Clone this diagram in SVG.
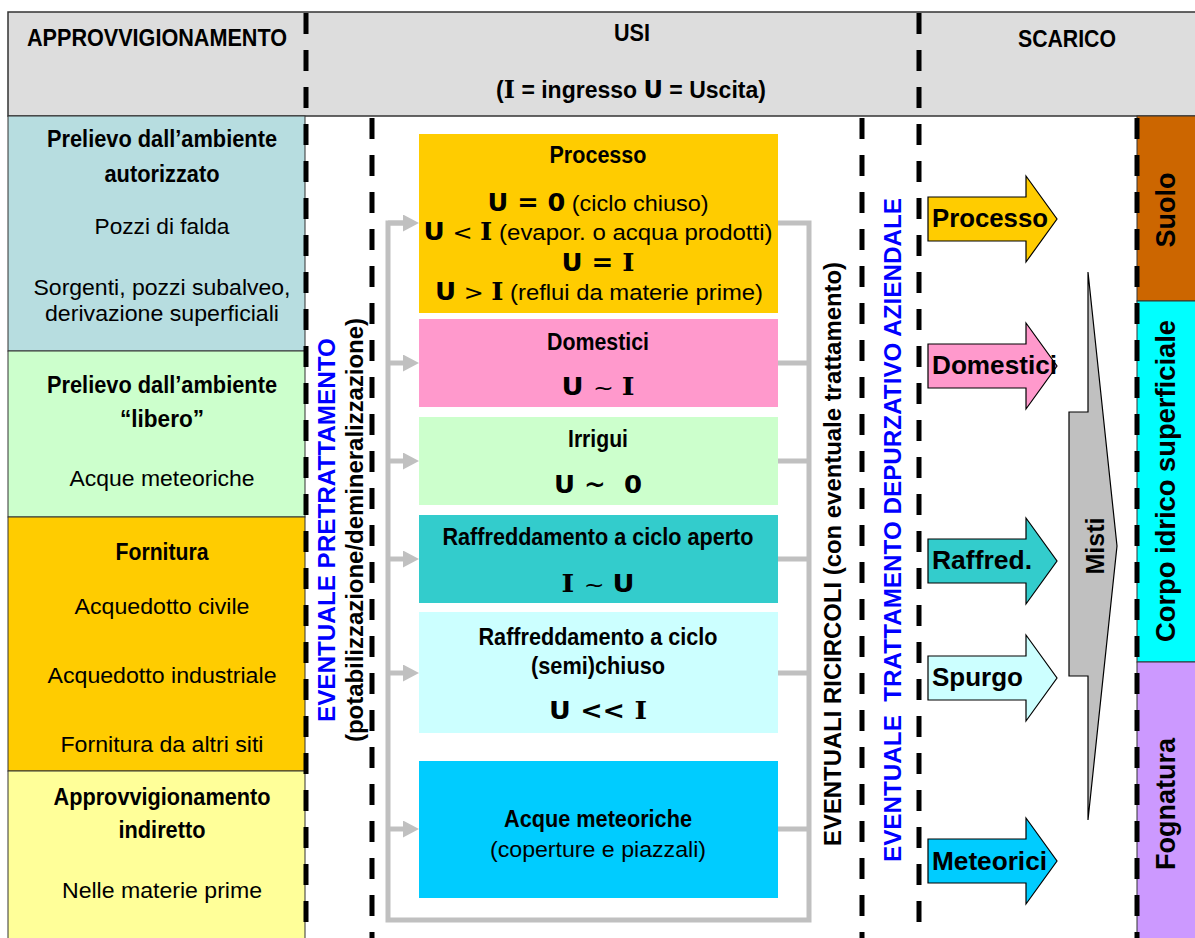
<svg xmlns="http://www.w3.org/2000/svg" width="1195" height="938" viewBox="0 0 1195 938">
<style>
.b{font-family:"Liberation Sans",Arial,sans-serif;font-weight:bold;font-size:24px;fill:#000}
.r{font-family:"Liberation Sans",Arial,sans-serif;font-size:22px;fill:#000}
.h{font-family:"Liberation Sans",Arial,sans-serif;font-weight:bold;font-size:23px;fill:#000}
.bl{font-family:"Liberation Sans",Arial,sans-serif;font-weight:bold;font-size:24px;fill:#0000ff}
.al{font-family:"Liberation Sans",Arial,sans-serif;font-weight:bold;font-size:26px;fill:#000}
.rc{font-family:"Liberation Sans",Arial,sans-serif;font-weight:bold;font-size:27px;fill:#000}
.su{font-family:"DejaVu Sans",sans-serif;font-weight:bold;font-size:24px}
.si{font-family:"DejaVu Serif",serif;font-weight:bold;font-size:24px}
.op{font-family:"DejaVu Sans",sans-serif;font-size:22px}
.dash{stroke:#000;stroke-width:5;stroke-dasharray:21 16;fill:none}
.gray{stroke:#c0c0c0;stroke-width:5;fill:none}
.cell{stroke:#333;stroke-width:1}
.blk{stroke:#000;stroke-width:1.2}
</style>
<defs>
<marker id="ga" markerUnits="userSpaceOnUse" markerWidth="17" markerHeight="18" refX="0" refY="8.5" orient="auto"><path d="M0,0 L16,8.5 L0,17 z" fill="#c0c0c0"/></marker>
</defs>
<rect width="1195" height="938" fill="#fff"/>

<g id="header">
<rect x="8" y="12" width="1192" height="104" fill="#dddddd" stroke="#333" stroke-width="1.5"/>
<text class="h" x="157" y="46" text-anchor="middle" textLength="260" lengthAdjust="spacingAndGlyphs">APPROVVIGIONAMENTO</text>
<text class="h" x="632" y="41" text-anchor="middle" textLength="36" lengthAdjust="spacingAndGlyphs">USI</text>
<text class="h" x="631" y="98" text-anchor="middle">(<tspan class="si">I</tspan> = ingresso <tspan class="su">U</tspan> = Uscita)</text>
<text class="h" x="1067" y="47" text-anchor="middle" textLength="98" lengthAdjust="spacingAndGlyphs">SCARICO</text>
</g>

<g id="supply">
<g id="prelievo-autorizzato">
<rect class="cell" x="8" y="116" width="297" height="235" fill="#b7dde0"/>
<text class="b" x="162" y="147" text-anchor="middle" textLength="230" lengthAdjust="spacingAndGlyphs">Prelievo dall’ambiente</text>
<text class="b" x="162" y="182" text-anchor="middle" textLength="115" lengthAdjust="spacingAndGlyphs">autorizzato</text>
<text class="r" x="162" y="234" text-anchor="middle" textLength="135" lengthAdjust="spacingAndGlyphs">Pozzi di falda</text>
<text class="r" x="162" y="295" text-anchor="middle" textLength="257" lengthAdjust="spacingAndGlyphs">Sorgenti, pozzi subalveo,</text>
<text class="r" x="162" y="321" text-anchor="middle" textLength="234" lengthAdjust="spacingAndGlyphs">derivazione superficiali</text>
</g>
<g id="prelievo-libero">
<rect class="cell" x="8" y="351" width="297" height="166" fill="#ccffcc"/>
<text class="b" x="162" y="393" text-anchor="middle" textLength="230" lengthAdjust="spacingAndGlyphs">Prelievo dall’ambiente</text>
<text class="b" x="162" y="427" text-anchor="middle" textLength="84" lengthAdjust="spacingAndGlyphs">“libero”</text>
<text class="r" x="162" y="486" text-anchor="middle" textLength="185" lengthAdjust="spacingAndGlyphs">Acque meteoriche</text>
</g>
<g id="fornitura">
<rect class="cell" x="8" y="517" width="297" height="254" fill="#ffcc00"/>
<text class="b" x="162" y="560" text-anchor="middle" textLength="93" lengthAdjust="spacingAndGlyphs">Fornitura</text>
<text class="r" x="162" y="614" text-anchor="middle" textLength="175" lengthAdjust="spacingAndGlyphs">Acquedotto civile</text>
<text class="r" x="162" y="683" text-anchor="middle" textLength="229" lengthAdjust="spacingAndGlyphs">Acquedotto industriale</text>
<text class="r" x="162" y="752" text-anchor="middle" textLength="203" lengthAdjust="spacingAndGlyphs">Fornitura da altri siti</text>
</g>
<g id="approvvigionamento-indiretto">
<rect class="cell" x="8" y="771" width="297" height="170" fill="#ffff99"/>
<text class="b" x="162" y="805" text-anchor="middle" textLength="217" lengthAdjust="spacingAndGlyphs">Approvvigionamento</text>
<text class="b" x="162" y="838" text-anchor="middle" textLength="87" lengthAdjust="spacingAndGlyphs">indiretto</text>
<text class="r" x="162" y="898" text-anchor="middle" textLength="200" lengthAdjust="spacingAndGlyphs">Nelle materie prime</text>
</g>
</g>

<g id="connectors">
<path class="gray" d="M403 223 H388 V920 H809 V223 H778"/>
<path class="gray" d="M388 223 H403" marker-end="url(#ga)"/>
<path class="gray" d="M388 363 H403" marker-end="url(#ga)"/>
<path class="gray" d="M388 461 H403" marker-end="url(#ga)"/>
<path class="gray" d="M388 559 H403" marker-end="url(#ga)"/>
<path class="gray" d="M388 673 H403" marker-end="url(#ga)"/>
<path class="gray" d="M388 829 H403" marker-end="url(#ga)"/>
<path class="gray" d="M778 363 H809 M778 461 H809 M778 559 H809 M778 673 H809 M778 829 H809"/>
</g>

<g id="uses">
<g id="processo">
<rect x="419" y="134" width="359" height="179" fill="#ffcc00"/>
<text class="b" x="598" y="163" text-anchor="middle" textLength="97" lengthAdjust="spacingAndGlyphs">Processo</text>
<text class="r" x="598" y="211" text-anchor="middle" textLength="221" lengthAdjust="spacingAndGlyphs"><tspan class="su">U = 0</tspan> (ciclo chiuso)</text>
<text class="r" x="598" y="240" text-anchor="middle" textLength="349" lengthAdjust="spacingAndGlyphs"><tspan class="su">U</tspan><tspan class="op"> &lt; </tspan><tspan class="si">I</tspan> (evapor. o acqua prodotti)</text>
<text class="r" x="598" y="271" text-anchor="middle" textLength="73" lengthAdjust="spacingAndGlyphs"><tspan class="su">U = </tspan><tspan class="si">I</tspan></text>
<text class="r" x="599" y="300" text-anchor="middle" textLength="328" lengthAdjust="spacingAndGlyphs"><tspan class="su">U</tspan><tspan class="op"> &gt; </tspan><tspan class="si">I</tspan> (reflui da materie prime)</text>
</g>
<g id="domestici">
<rect x="419" y="319" width="359" height="88" fill="#ff99cc"/>
<text class="b" x="598" y="350" text-anchor="middle" textLength="102" lengthAdjust="spacingAndGlyphs">Domestici</text>
<text class="r" x="598" y="395" text-anchor="middle" textLength="73" lengthAdjust="spacingAndGlyphs"><tspan class="su">U </tspan><tspan class="op">~ </tspan><tspan class="si">I</tspan></text>
</g>
<g id="irrigui">
<rect x="419" y="417" width="359" height="88" fill="#ccffcc"/>
<text class="b" x="598" y="447" text-anchor="middle" textLength="60" lengthAdjust="spacingAndGlyphs">Irrigui</text>
<text class="su" x="598" y="493" text-anchor="middle" textLength="88" lengthAdjust="spacingAndGlyphs" xml:space="preserve">U ~  0</text>
</g>
<g id="raffreddamento-aperto">
<rect x="419" y="515" width="359" height="88" fill="#33cccc"/>
<text class="b" x="598" y="545" text-anchor="middle" textLength="311" lengthAdjust="spacingAndGlyphs">Raffreddamento a ciclo aperto</text>
<text class="r" x="598" y="592" text-anchor="middle" textLength="73" lengthAdjust="spacingAndGlyphs"><tspan class="si">I </tspan><tspan class="op">~ </tspan><tspan class="su">U</tspan></text>
</g>
<g id="raffreddamento-semichiuso">
<rect x="419" y="612" width="359" height="121" fill="#ccffff"/>
<text class="b" x="598" y="645" text-anchor="middle" textLength="239" lengthAdjust="spacingAndGlyphs">Raffreddamento a ciclo</text>
<text class="b" x="598" y="674" text-anchor="middle" textLength="134" lengthAdjust="spacingAndGlyphs">(semi)chiuso</text>
<text class="r" x="598" y="719" text-anchor="middle" textLength="98" lengthAdjust="spacingAndGlyphs"><tspan class="su">U &lt;&lt; </tspan><tspan class="si">I</tspan></text>
</g>
<g id="acque-meteoriche">
<rect x="419" y="761" width="359" height="137" fill="#00ccff"/>
<text class="b" x="598" y="827" text-anchor="middle" textLength="188" lengthAdjust="spacingAndGlyphs">Acque meteoriche</text>
<text class="r" x="598" y="857" text-anchor="middle" textLength="216" lengthAdjust="spacingAndGlyphs">(coperture e piazzali)</text>
</g>
</g>

<g id="receivers">
<g id="suolo">
<rect class="cell" x="1137" y="116" width="60" height="185" fill="#cc6600"/>
<text class="rc" transform="translate(1175,210) rotate(-90)" text-anchor="middle">Suolo</text>
</g>
<g id="corpo-idrico">
<rect class="cell" x="1137" y="301" width="60" height="361" fill="#00ffff"/>
<text class="rc" transform="translate(1175,481) rotate(-90)" text-anchor="middle" textLength="322" lengthAdjust="spacingAndGlyphs">Corpo idrico superficiale</text>
</g>
<g id="fognatura">
<rect class="cell" x="1137" y="662" width="60" height="280" fill="#cc99ff"/>
<text class="rc" transform="translate(1175,804) rotate(-90)" text-anchor="middle">Fognatura</text>
</g>
</g>

<g id="lanes">
<line class="dash" x1="306" y1="13" x2="306" y2="938"/>
<line class="dash" x1="372" y1="118" x2="372" y2="938"/>
<line class="dash" x1="862" y1="118" x2="862" y2="938"/>
<line class="dash" x1="919" y1="13" x2="919" y2="938"/>
<line class="dash" x1="1137" y1="118" x2="1137" y2="938"/>
</g>

<g id="pretrattamento">
<text class="bl" transform="translate(335,530) rotate(-90)" text-anchor="middle" textLength="384" lengthAdjust="spacingAndGlyphs">EVENTUALE PRETRATTAMENTO</text>
<text class="h" transform="translate(363,530) rotate(-90)" text-anchor="middle" textLength="424" lengthAdjust="spacingAndGlyphs">(potabilizzazione/demineralizzazione)</text>
</g>
<g id="ricircoli">
<text class="h" transform="translate(841,554) rotate(-90)" text-anchor="middle" textLength="584" lengthAdjust="spacingAndGlyphs">EVENTUALI RICIRCOLI (con eventuale trattamento)</text>
</g>
<g id="depurazione">
<text class="bl" transform="translate(901,530) rotate(-90)" text-anchor="middle" textLength="664" lengthAdjust="spacingAndGlyphs" xml:space="preserve">EVENTUALE  TRATTAMENTO DEPURZATIVO AZIENDALE</text>
</g>

<g id="discharges">
<g id="out-processo">
<polygon class="blk" fill="#ffcc00" points="928,197 1026,197 1026,176 1057,219 1026,262 1026,241 928,241"/>
<text class="al" x="932" y="227" textLength="116" lengthAdjust="spacingAndGlyphs">Processo</text>
</g>
<g id="out-domestici">
<polygon class="blk" fill="#ff99cc" points="928,344 1026,344 1026,323 1057,366 1026,409 1026,388 928,388"/>
<text class="al" x="932" y="374" textLength="125" lengthAdjust="spacingAndGlyphs">Domestici</text>
</g>
<g id="out-raffred">
<polygon class="blk" fill="#33cccc" points="928,539 1026,539 1026,518 1057,561 1026,604 1026,583 928,583"/>
<text class="al" x="932" y="569" textLength="100" lengthAdjust="spacingAndGlyphs">Raffred.</text>
</g>
<g id="out-spurgo">
<polygon class="blk" fill="#ccffff" points="928,656 1026,656 1026,635 1057,678 1026,721 1026,700 928,700"/>
<text class="al" x="932" y="686">Spurgo</text>
</g>
<g id="out-meteorici">
<polygon class="blk" fill="#00ccff" points="928,839 1026,839 1026,818 1057,861 1026,904 1026,883 928,883"/>
<text class="al" x="932" y="870" textLength="115" lengthAdjust="spacingAndGlyphs">Meteorici</text>
</g>
<g id="misti">
<polygon class="blk" fill="#c0c0c0" points="1069,412 1088,412 1088,272 1117,546 1088,820 1088,676 1069,676"/>
<text class="al" style="font-size:25px" transform="translate(1104,546) rotate(-90)" text-anchor="middle">Misti</text>
</g>
</g>
</svg>
